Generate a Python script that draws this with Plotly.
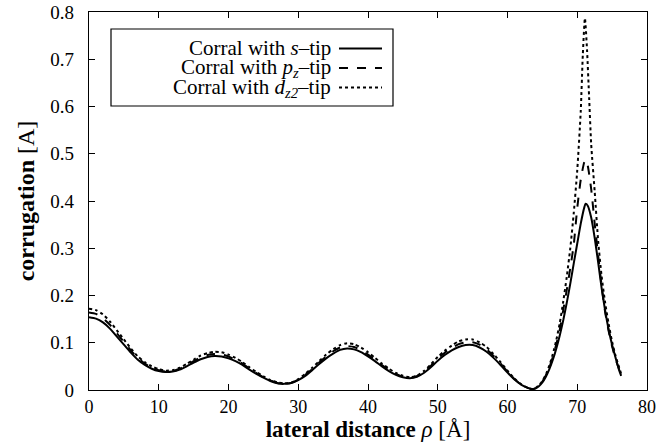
import plotly.graph_objects as go

# ---- data ----
rho_low = list(range(0, 64))  # 0..63 Å

s_low = [0.154, 0.151, 0.143, 0.130, 0.113, 0.096, 0.079, 0.064, 0.053, 0.045,
         0.040, 0.038, 0.039, 0.043, 0.050, 0.058, 0.065, 0.070, 0.072, 0.071,
         0.067, 0.061, 0.053, 0.043, 0.034, 0.026, 0.019, 0.014, 0.013, 0.015,
         0.021, 0.030, 0.042, 0.055, 0.067, 0.077, 0.085, 0.088, 0.086, 0.080,
         0.071, 0.061, 0.050, 0.040, 0.032, 0.027, 0.025, 0.028, 0.036, 0.048,
         0.062, 0.074, 0.084, 0.091, 0.095, 0.095, 0.090, 0.081, 0.068, 0.053,
         0.037, 0.022, 0.011, 0.004]
p_low = [0.164, 0.161, 0.152, 0.138, 0.120, 0.102, 0.084, 0.068, 0.056, 0.047,
         0.042, 0.039, 0.040, 0.045, 0.053, 0.061, 0.069, 0.074, 0.076, 0.075,
         0.071, 0.064, 0.056, 0.045, 0.036, 0.027, 0.020, 0.015, 0.013, 0.015,
         0.022, 0.032, 0.044, 0.058, 0.071, 0.082, 0.090, 0.093, 0.091, 0.085,
         0.075, 0.064, 0.053, 0.042, 0.034, 0.028, 0.026, 0.029, 0.038, 0.051,
         0.066, 0.079, 0.089, 0.097, 0.101, 0.101, 0.096, 0.086, 0.072, 0.056,
         0.039, 0.023, 0.011, 0.004]
d_low = [0.172, 0.169, 0.160, 0.145, 0.126, 0.107, 0.088, 0.071, 0.059, 0.050,
         0.044, 0.041, 0.042, 0.047, 0.055, 0.064, 0.073, 0.078, 0.081, 0.080,
         0.075, 0.068, 0.059, 0.048, 0.038, 0.029, 0.021, 0.016, 0.014, 0.016,
         0.023, 0.034, 0.047, 0.061, 0.075, 0.086, 0.095, 0.099, 0.097, 0.090,
         0.080, 0.068, 0.056, 0.045, 0.036, 0.030, 0.027, 0.030, 0.040, 0.054,
         0.070, 0.083, 0.094, 0.103, 0.107, 0.107, 0.101, 0.091, 0.076, 0.059,
         0.041, 0.024, 0.012, 0.004]

rho_peak_s = [63.5, 64, 64.5, 65, 65.5, 66, 66.5, 67, 67.5, 68, 68.5, 69, 69.5, 70,
              70.5, 71, 71.2, 71.5, 72, 72.5, 73, 73.5, 74, 74.5, 75, 75.5, 76, 76.3]
s_peak = [0.002, 0.003, 0.008, 0.016, 0.028, 0.044, 0.064, 0.088, 0.116, 0.148,
          0.185, 0.225, 0.268, 0.310, 0.352, 0.386, 0.394, 0.390, 0.365, 0.322,
          0.270, 0.215, 0.168, 0.128, 0.095, 0.068, 0.042, 0.030]

rho_peak_p = [63.5, 64, 64.5, 65, 65.5, 66, 66.5, 67, 67.5, 68, 68.5, 69, 69.5, 70,
              70.5, 71, 71.2, 71.5, 72, 72.5, 73, 73.5, 74, 74.5, 75, 75.5, 76, 76.3]
p_peak = [0.002, 0.004, 0.009, 0.018, 0.031, 0.048, 0.070, 0.097, 0.128, 0.170,
          0.212, 0.258, 0.308, 0.385, 0.445, 0.482, 0.487, 0.475, 0.425, 0.352,
          0.285, 0.220, 0.165, 0.125, 0.092, 0.065, 0.044, 0.032]

rho_peak_d = [63.5, 64, 64.5, 65, 65.5, 66, 66.5, 67, 67.5, 68, 68.5, 69, 69.5, 70,
              70.5, 70.8, 71.1, 71.4, 71.7, 72, 72.5, 73, 73.5, 74, 74.5, 75, 75.5, 76, 76.3]
d_peak = [0.002, 0.004, 0.010, 0.019, 0.033, 0.052, 0.076, 0.106, 0.142, 0.188,
          0.240, 0.300, 0.375, 0.465, 0.590, 0.710, 0.787, 0.720, 0.620, 0.520,
          0.420, 0.315, 0.240, 0.185, 0.140, 0.102, 0.072, 0.048, 0.034]

x_ticks = [0, 10, 20, 30, 40, 50, 60, 70, 80]
y_ticks = [0, 0.1, 0.2, 0.3, 0.4, 0.5, 0.6, 0.7, 0.8]
y_tick_labels = ["0", "0.1", "0.2", "0.3", "0.4", "0.5", "0.6", "0.7", "0.8"]

names = ["Corral with <i>s</i>–tip",
         "Corral with <i>p<sub>z</sub></i>–tip",
         "Corral with <i>d<sub>z2</sub></i>–tip"]
dashes = ["solid", "dash", "dot"]

FONT = "Liberation Serif"

fig = go.Figure()
series = [(rho_low + rho_peak_s, s_low + s_peak),
          (rho_low + rho_peak_p, p_low + p_peak),
          (rho_low + rho_peak_d, d_low + d_peak)]
for (xs, ys), nm, ds in zip(series, names, dashes):
    fig.add_trace(go.Scatter(x=xs, y=ys, mode="lines", name=nm, showlegend=False,
                             line=dict(color="black", width=2, dash=ds, shape="spline",
                                       smoothing=0.6)))

# custom legend (text right, sample on right as in the reference)
fig.add_shape(type="rect", xref="paper", yref="paper",
              x0=(111-89)/558, x1=(393-89)/558, y0=(390-106)/378, y1=(390-29)/378,
              line=dict(color="black", width=1.2), fillcolor="white", layer="above")
rows_y = [48.5, 68, 87.5]
for nm, ds, ry in zip(names, dashes, rows_y):
    yp = (390-ry)/378
    fig.add_annotation(xref="paper", yref="paper", x=(332-89)/558, y=yp,
                       text=nm, showarrow=False, xanchor="right", yanchor="middle",
                       borderpad=0,
                       font=dict(family=FONT, size=21, color="black"))
    fig.add_shape(type="line", xref="paper", yref="paper",
                  x0=(339-89)/558, x1=(382-89)/558, y0=yp, y1=yp,
                  line=dict(color="black", width=2, dash=ds), layer="above")

axis_common = dict(showline=True, linecolor="black", linewidth=1.3, mirror="ticks",
                   ticks="inside", ticklen=6, tickwidth=1, tickcolor="black",
                   showgrid=False, zeroline=False, automargin=False)

fig.update_xaxes(range=[0, 80], tickvals=x_ticks, ticktext=[str(v) for v in x_ticks],
                 ticklabelstandoff=0,
                 tickfont=dict(family=FONT, size=18, color="black"),
                 title=dict(text="<b>lateral distance</b> <i>ρ</i> [Å]", standoff=3,
                            font=dict(family=FONT, size=23, color="black")),
                 **axis_common)
fig.update_yaxes(range=[0, 0.8], tickvals=y_ticks, ticktext=y_tick_labels,
                 ticklabelstandoff=10,
                 tickfont=dict(family=FONT, size=19, color="black"),
                 title=dict(text="<b>corrugation</b> [A]", standoff=8,
                            font=dict(family=FONT, size=24, color="black")),
                 **axis_common)

fig.update_layout(width=657, height=442, margin=dict(l=89, r=10, t=12, b=52),
                  paper_bgcolor="white", plot_bgcolor="white",
                  font=dict(family=FONT, color="black"))

fig.write_html("out.html")
